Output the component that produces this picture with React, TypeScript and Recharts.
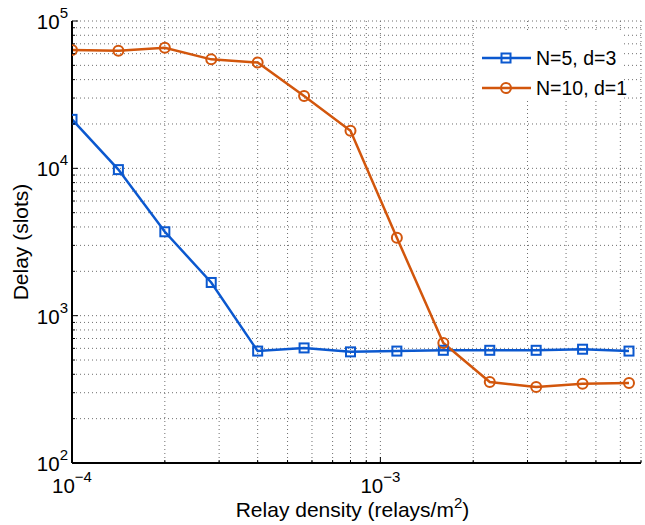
import React from 'react'
import { LineChart, Line, XAxis, YAxis, CartesianGrid, Legend } from 'recharts'

const FONT = '"Liberation Sans", Arial, Helvetica, sans-serif'
const BLUE = '#0b58cf'
const ORANGE = '#d2560c'

// relay density, step of sqrt(2)
const density = [
  1.0e-4, 1.414e-4, 2.0e-4, 2.828e-4, 4.0e-4, 5.657e-4, 8.0e-4,
  1.131e-3, 1.6e-3, 2.263e-3, 3.2e-3, 4.525e-3, 6.4e-3,
]
const delayN5 = [21500, 9800, 3710, 1680, 575, 604, 568, 575, 582, 582, 582, 592, 575]
const delayN10 = [63600, 62900, 65900, 54900, 52200, 31000, 18000, 3380, 653, 355, 328, 345, 349]

const seriesNames = ['N=5, d=3', 'N=10, d=1']

const xTicks = [
  1e-4, 2e-4, 3e-4, 4e-4, 5e-4, 6e-4, 7e-4, 8e-4, 9e-4,
  1e-3, 2e-3, 3e-3, 4e-3, 5e-3, 6e-3, 7e-3,
]
const yTicks = [
  100, 200, 300, 400, 500, 600, 700, 800, 900,
  1000, 2000, 3000, 4000, 5000, 6000, 7000, 8000, 9000,
  10000, 20000, 30000, 40000, 50000, 60000, 70000, 80000, 90000,
  100000,
]

const data = density.map((x, i) => ({ x, a: delayN5[i], b: delayN10[i] }))

function isMajor(v: number) {
  const l = Math.log10(v)
  return Math.abs(l - Math.round(l)) < 1e-9
}
function expLabel(v: number) {
  const e = Math.round(Math.log10(v))
  return e < 0 ? `\u2212${-e}` : `${e}`
}

function Pow10({ v, ...rest }: any) {
  return (
    <text fontFamily={FONT} fontSize={20.5} fill="#000" {...rest}>
      10<tspan dy={-11} fontSize={15}>{expLabel(v)}</tspan>
    </text>
  )
}

const BottomTick = ({ x, y, payload }: any) => {
  const major = isMajor(payload.value)
  return (
    <g>
      <line x1={x} x2={x} y1={y} y2={y - (major ? 6 : 3)} stroke="#000" />
      {major && <Pow10 v={payload.value} x={x} y={y + 30} textAnchor="middle" />}
    </g>
  )
}
const TopTick = ({ x, y, payload }: any) => (
  <line x1={x} x2={x} y1={y} y2={y + (isMajor(payload.value) ? 6 : 3)} stroke="#000" />
)
const LeftTick = ({ x, y, payload }: any) => {
  const major = isMajor(payload.value)
  return (
    <g>
      <line x1={x} x2={x + (major ? 6 : 3)} y1={y} y2={y} stroke="#000" />
      {major && <Pow10 v={payload.value} x={x - 4} y={y + 8} textAnchor="end" />}
    </g>
  )
}
const RightTick = ({ x, y, payload }: any) => (
  <line x1={x} x2={x - (isMajor(payload.value) ? 6 : 3)} y1={y} y2={y} stroke="#000" />
)

const SquareDot = ({ cx, cy, index }: any) => (
  <rect key={index} x={cx - 4.5} y={cy - 4.5} width={9} height={9} fill="none" stroke={BLUE} strokeWidth={2} />
)
const CircleDot = ({ cx, cy, index }: any) => (
  <circle key={index} cx={cx} cy={cy} r={5} fill="none" stroke={ORANGE} strokeWidth={2} />
)

function LegendBox() {
  const colors = [BLUE, ORANGE]
  return (
    <div style={{ background: '#fff', width: 146, height: 67, position: 'relative', fontFamily: FONT }}>
      {seriesNames.map((name, i) => (
        <div
          key={name}
          style={{ position: 'absolute', left: 0, top: 14 + 30 * i, height: 22, display: 'flex', alignItems: 'center' }}
        >
          <svg width={58} height={22}>
            <line x1={6} x2={55} y1={11} y2={11} stroke={colors[i]} strokeWidth={2.5} />
            {i === 0 ? (
              <rect x={25.5} y={6.5} width={9} height={9} fill="none" stroke={BLUE} strokeWidth={2} />
            ) : (
              <circle cx={30} cy={11} r={5} fill="none" stroke={ORANGE} strokeWidth={2} />
            )}
          </svg>
          <span style={{ fontSize: 19.5, color: '#000', marginLeft: 2, whiteSpace: 'nowrap' }}>{name}</span>
        </div>
      ))}
    </div>
  )
}

const XLabel = ({ viewBox }: any) => {
  const cx = viewBox.x + viewBox.width / 2 - 4
  return (
    <text x={cx} y={viewBox.y + 54} textAnchor="middle" fontFamily={FONT} fontSize={21} fill="#000">
      Relay density (relays/m<tspan dy={-9} fontSize={15}>2</tspan><tspan dy={9}>)</tspan>
    </text>
  )
}
const YLabel = ({ viewBox }: any) => {
  const cy = viewBox.y + viewBox.height / 2
  return (
    <text x={28} y={cy} transform={`rotate(-90, 28, ${cy})`} textAnchor="middle" fontFamily={FONT} fontSize={21} fill="#000">
      Delay (slots)
    </text>
  )
}

export default function App() {
  return (
    <div style={{ position: 'absolute', left: 0, top: 0, background: '#fff' }}>
      <LineChart width={645} height={525} data={data} margin={{ top: 21, right: 4, left: 0, bottom: 0 }}>
        <CartesianGrid stroke="#6e6e6e" strokeDasharray="1 3" />
        <XAxis
          dataKey="x"
          type="number"
          scale="log"
          domain={[1e-4, 7e-3]}
          allowDataOverflow
          ticks={xTicks}
          interval={0}
          height={62}
          tickSize={0}
          tickMargin={0}
          tickLine={false}
          tick={<BottomTick />}
          axisLine={{ stroke: '#000', strokeWidth: 2 }}
          label={<XLabel />}
        />
        <XAxis
          xAxisId="top"
          orientation="top"
          dataKey="x"
          type="number"
          scale="log"
          domain={[1e-4, 7e-3]}
          allowDataOverflow
          ticks={xTicks}
          interval={0}
          height={0}
          tickSize={0}
          tickMargin={0}
          tickLine={false}
          tick={<TopTick />}
          axisLine={{ stroke: '#000', strokeWidth: 2 }}
        />
        <YAxis
          type="number"
          scale="log"
          domain={[100, 100000]}
          allowDataOverflow
          ticks={yTicks}
          interval={0}
          width={72}
          tickSize={0}
          tickMargin={0}
          tickLine={false}
          tick={<LeftTick />}
          axisLine={{ stroke: '#000', strokeWidth: 2 }}
          label={<YLabel />}
        />
        <YAxis
          yAxisId="right"
          orientation="right"
          type="number"
          scale="log"
          domain={[100, 100000]}
          allowDataOverflow
          ticks={yTicks}
          interval={0}
          width={0}
          tickSize={0}
          tickMargin={0}
          tickLine={false}
          tick={<RightTick />}
          axisLine={{ stroke: '#000', strokeWidth: 2 }}
        />
        <Line dataKey="a" name={seriesNames[0]} stroke={BLUE} strokeWidth={2.5} dot={<SquareDot />} isAnimationActive={false} />
        <Line dataKey="b" name={seriesNames[1]} stroke={ORANGE} strokeWidth={2.5} dot={<CircleDot />} isAnimationActive={false} />
        <Legend
          layout="horizontal"
          verticalAlign="middle"
          align="center"
          content={<LegendBox />}
          wrapperStyle={{ left: 476, top: 33, right: 'auto', bottom: 'auto', width: 146, height: 67 }}
        />
      </LineChart>
    </div>
  )
}
